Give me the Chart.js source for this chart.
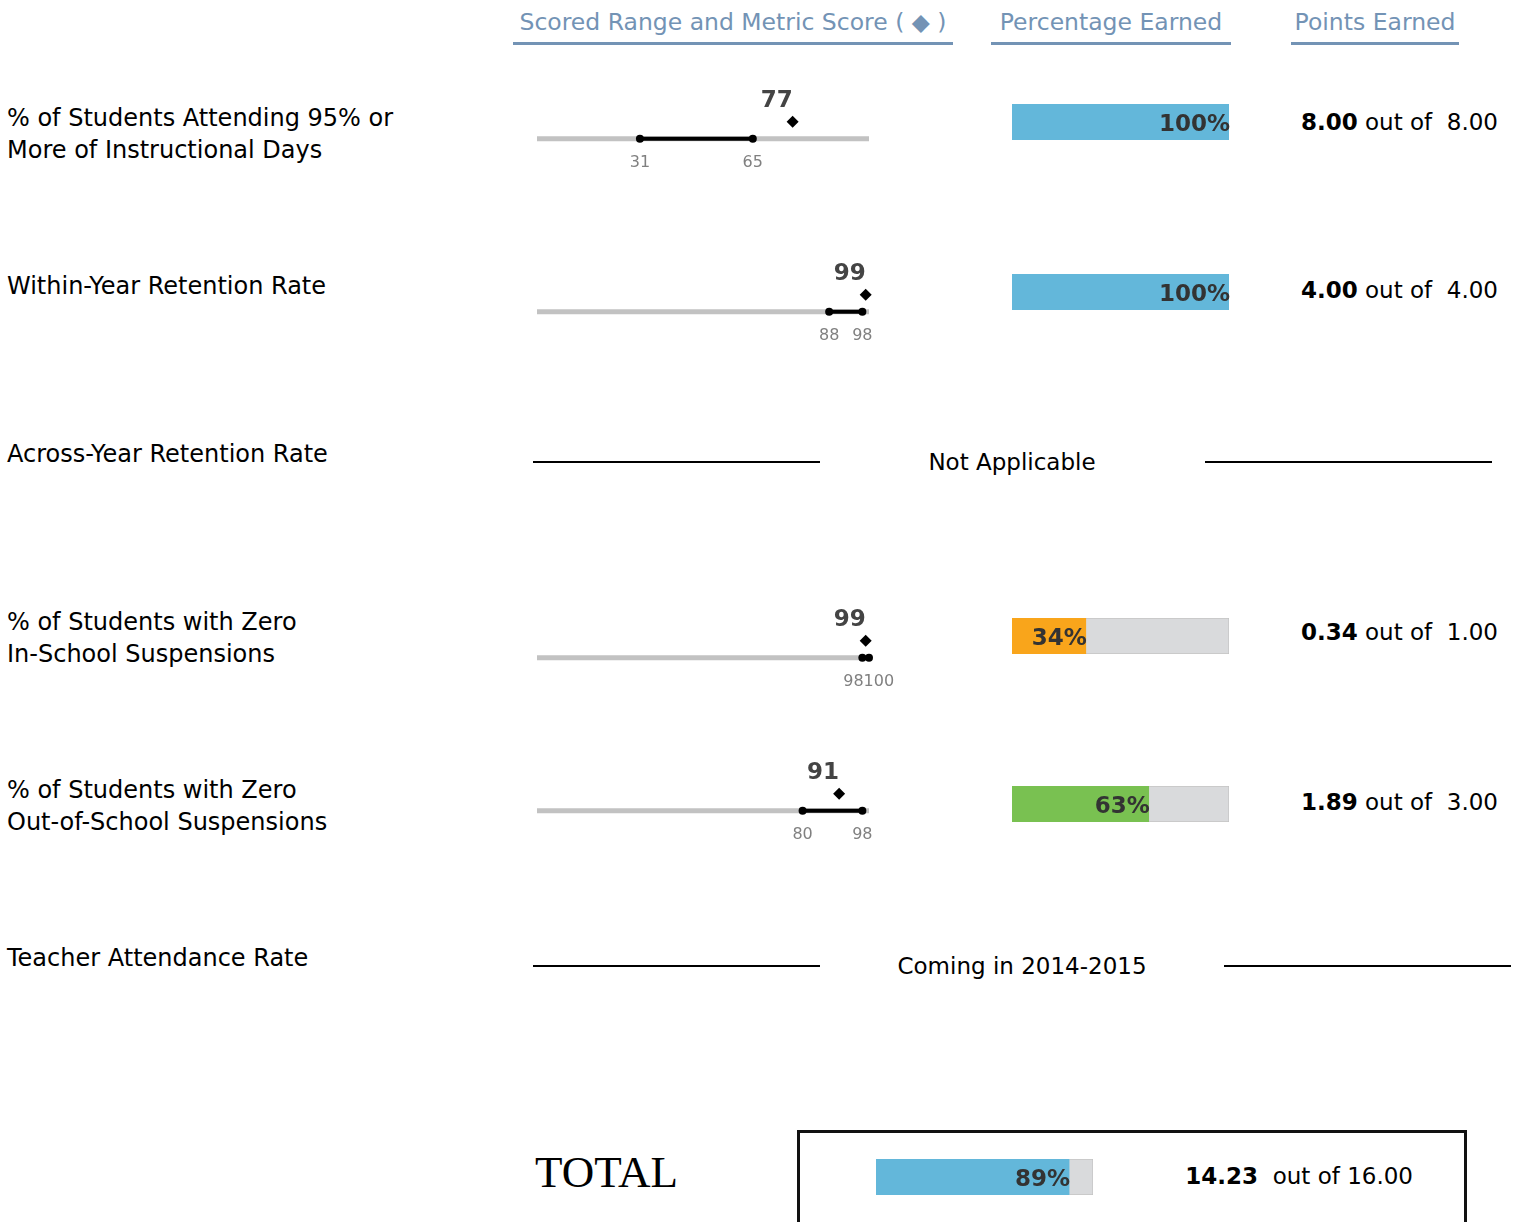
<!DOCTYPE html>
<html>
<head>
<meta charset="utf-8">
<script src="https://cdn.jsdelivr.net/npm/chart.js@4.4.1/dist/chart.umd.min.js"></script>
<style>
body { margin: 0; background: #fff; width: 1525px; height: 1222px; overflow: hidden; position: relative; font-family: "DejaVu Sans", sans-serif; color: #000; }
.t { position: absolute; white-space: nowrap; font-size: 24px; line-height: 32px; }
.hdr { position: absolute; color: #7393B5; font-size: 23.5px; line-height: 28px; padding-bottom: 6px; border-bottom: 3px solid #7393B5; text-align: center; white-space: nowrap; }
.rule { position: absolute; height: 2px; background: #000; }
.pts { position: absolute; white-space: nowrap; font-size: 23px; line-height: 30px; text-align: right; }
canvas { position: absolute; }
</style>
</head>
<body>
<script>
var headers = ['Scored Range and Metric Score ( \u25C6 )', 'Percentage Earned', 'Points Earned'];
var rowLabels = [
	['% of Students Attending 95% or', 'More of Instructional Days'],
	['Within-Year Retention Rate'],
	['Across-Year Retention Rate'],
	['% of Students with Zero', 'In-School Suspensions'],
	['% of Students with Zero', 'Out-of-School Suspensions'],
	['Teacher Attendance Rate']
];
var rangeLow = [31, 88, null, 98, 80, null];
var rangeHigh = [65, 98, null, 100, 98, null];
var metricScore = [77, 99, null, 99, 91, null];
var pctEarned = [100, 100, null, 34, 63, null];
var pointsEarned = [8.00, 4.00, null, 0.34, 1.89, null];
var pointsPossible = [8.00, 4.00, null, 1.00, 3.00, null];
var rowNotes = [null, null, 'Not Applicable', null, null, 'Coming in 2014-2015'];
var totalPct = 89;
var totalEarned = 14.23;
var totalPossible = 16.00;

// layout
var labelY = [118, 286, 454, 622, 790, 958];
var lineY = [140, 313, null, 659, 812, null];
var barY = [122, 292, null, 636, 804, null];
var pointsY = [122, 290, null, 632, 802, null];
var barColors = ['#63B7DA', '#63B7DA', null, '#F9A51B', '#79C151', null];
var noteX = [null, null, 1012, null, null, 1022];
var ruleSpans = [null, null, [[533, 820], [1205, 1492]], null, null, [[533, 820], [1224, 1511]]];

function el(tag, cls, css, html) {
	var d = document.createElement(tag);
	if (cls) d.className = cls;
	for (var k in css) d.style[k] = css[k];
	if (html != null) d.innerHTML = html;
	document.body.appendChild(d);
	return d;
}

// headers
var hdrBox = [[513, 440], [991, 240], [1291, 168]];
for (var h = 0; h < headers.length; h++) {
	el('div', 'hdr', { left: hdrBox[h][0] + 'px', top: '8px', width: hdrBox[h][1] + 'px' }, headers[h]);
}

function rangeChart(i) {
	var c = el('canvas', null, { left: '500px', top: (lineY[i] - 54) + 'px' });
	c.width = 420; c.height = 90;
	var labelPlugin = {
		id: 'rangeLabels',
		afterDatasetsDraw: function(chart) {
			var ctx = chart.ctx, xs = chart.scales.x, ys = chart.scales.y;
			ctx.save();
			ctx.textAlign = 'center';
			ctx.textBaseline = 'middle';
			ctx.fillStyle = '#444';
			ctx.font = 'bold 23px "DejaVu Sans"';
			// score label sits up and to the left of the diamond
			ctx.fillText(String(metricScore[i]), xs.getPixelForValue(metricScore[i]) - 16, ys.getPixelForValue(1.1) - 21);

			ctx.font = '16px "DejaVu Sans"';
			ctx.fillStyle = '#808080';
			var la = String(rangeLow[i]), lb = String(rangeHigh[i]);
			var a = xs.getPixelForValue(rangeLow[i]), b = xs.getPixelForValue(rangeHigh[i]);
			var wa = ctx.measureText(la).width, wb = ctx.measureText(lb).width;
			if (b - a < (wa + wb) / 2 + 2) {
				var m = (a + b) / 2 + 3;
				a = m - (wa + wb) / 2 + wa / 2;
				b = a + (wa + wb) / 2;
			}
			var ty = ys.getPixelForValue(0) + 24;
			ctx.fillText(la, a, ty);
			ctx.fillText(lb, b, ty);
			ctx.restore();
		}
	};
	new Chart(c, {
		type: 'scatter',
		data: {
			datasets: [
				{ data: [{x: 0, y: 0}, {x: 100, y: 0}], showLine: true, borderColor: '#C2C2C2', borderWidth: 5, pointRadius: 0, order: 3 },
				{ data: [{x: rangeLow[i], y: 0}, {x: rangeHigh[i], y: 0}], showLine: true, borderColor: '#000', borderWidth: 4, pointRadius: 4, pointBackgroundColor: '#000', pointBorderWidth: 0, order: 2 },
				{ data: [{x: metricScore[i], y: 1.1}], pointStyle: 'rectRot', pointRadius: 6, pointBackgroundColor: '#000', pointBorderWidth: 0, order: 1 }
			]
		},
		options: {
			responsive: false,
			animation: false,
			events: [],
			clip: false,
			layout: { padding: { left: 37, right: 51, top: 0, bottom: 0 } },
			scales: {
				x: { type: 'linear', min: 0, max: 100, display: false },
				y: { min: -2, max: 3, display: false }
			},
			plugins: { legend: { display: false }, tooltip: { enabled: false } }
		},
		plugins: [labelPlugin]
	});
}

function pctChart(left, centerY, pct, color) {
	var c = el('canvas', null, { left: (left - 12) + 'px', top: (centerY - 25) + 'px' });
	c.width = 260; c.height = 50;
	var labelPlugin = {
		id: 'pctLabel',
		afterDatasetsDraw: function(chart) {
			var ctx = chart.ctx, xs = chart.scales.x;
			ctx.save();
			ctx.textAlign = 'right';
			ctx.textBaseline = 'middle';
			ctx.fillStyle = '#333';
			ctx.font = 'bold 23px "DejaVu Sans"';
			ctx.fillText(pct + '%', xs.getPixelForValue(pct) + 1, 28);
			ctx.restore();
		}
	};
	new Chart(c, {
		type: 'bar',
		data: {
			labels: [''],
			datasets: [
				{ data: [pct], backgroundColor: color, barPercentage: 1, categoryPercentage: 1 },
				{ data: [100 - pct], backgroundColor: '#D9DADC', borderColor: '#C4C4C4', borderWidth: 1, barPercentage: 1, categoryPercentage: 1 }
			]
		},
		options: {
			indexAxis: 'y',
			responsive: false,
			animation: false,
			events: [],
			layout: { padding: { left: 12, right: 31, top: 7, bottom: 7 } },
			scales: {
				x: { stacked: true, min: 0, max: 100, display: false },
				y: { stacked: true, display: false }
			},
			plugins: { legend: { display: false }, tooltip: { enabled: false } }
		},
		plugins: [labelPlugin]
	});
}

for (var i = 0; i < rowLabels.length; i++) {
	el('div', 't', { left: '7px', top: (labelY[i] - 16) + 'px' }, rowLabels[i].join('<br>'));
	if (rowNotes[i]) {
		el('div', 't', { left: noteX[i] + 'px', top: (labelY[i] - 8) + 'px', transform: 'translateX(-50%)', fontSize: '23px' }, rowNotes[i]);
		ruleSpans[i].forEach(function(s) {
			el('div', 'rule', { left: s[0] + 'px', width: (s[1] - s[0]) + 'px', top: (labelY[i] + 7) + 'px' });
		});
		continue;
	}
	rangeChart(i);
	pctChart(1012, barY[i], pctEarned[i], barColors[i]);
	el('div', 'pts', { right: '27px', top: (pointsY[i] - 15) + 'px' },
		'<b>' + pointsEarned[i].toFixed(2) + '</b> out of&nbsp; ' + pointsPossible[i].toFixed(2));
}

// total
el('div', 't', { left: '535px', top: '1146px', fontFamily: '"Liberation Serif", serif', fontSize: '45px', lineHeight: '52px' }, 'TOTAL');
el('div', null, { position: 'absolute', left: '797px', top: '1130px', width: '664px', height: '200px', border: '3px solid #111' });
pctChart(876, 1177, totalPct, '#63B7DA');
el('div', 'pts', { right: '112px', top: '1161px' },
	'<b>' + totalEarned.toFixed(2) + '</b>&nbsp; out of ' + totalPossible.toFixed(2));
</script>
</body>
</html>
